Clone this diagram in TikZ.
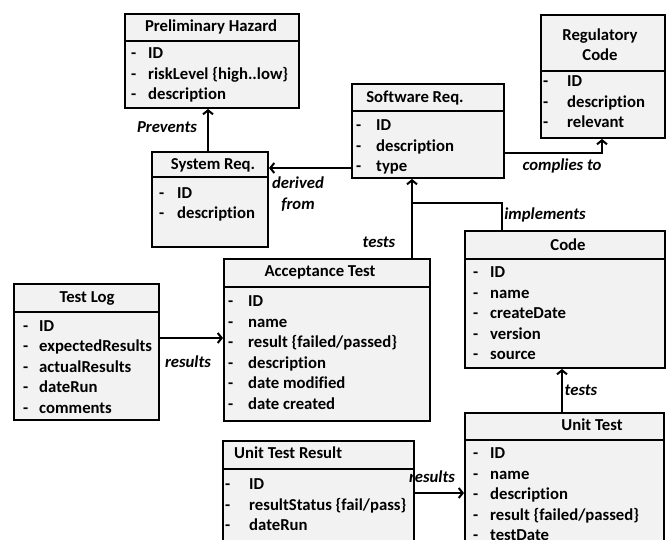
\documentclass[tikz,border=0pt]{standalone}
\usepackage{fontspec}
\setmainfont{Carlito}[Ligatures=NoCommon]
\usetikzlibrary{arrows.meta}
\newcommand\umlbox[6]{%
  \node[cls, minimum width={#4-#2}, minimum height={#5-#3}] (#1) at (#2,#3) {};
  \draw[divline] (#2,#6) -- (#4,#6);
}
\newcommand\umlitems[5]{%
  \foreach \ittxt [count=\ii] in {#5}{%
    \node[txt, anchor=base west] (#1d\ii) at (#2, {#4+20.5*(\ii-1)}) {-};
    \node[txt, anchor=base west] (#1t\ii) at (#3, {#4+20.5*(\ii-1)}) {\ittxt};
  }%
}
\begin{document}
\begin{tikzpicture}[x=1pt,y=-1pt,
  cls/.style={draw=black, line width=2pt, fill=gray!10, inner sep=0pt, outer sep=1pt, anchor=north west},
  divline/.style={line width=2pt},
  txt/.style={font=\fontsize{16.7}{20.5}\selectfont\bfseries, inner sep=0pt},
  lbl/.style={font=\fontsize{16.7}{20.5}\selectfont\bfseries\itshape, inner sep=0pt, align=center},
  conn/.style={line width=2pt},
  arr/.style={conn, -{Straight Barb[length=4pt,width=10pt,line width=2pt]}},
]
\useasboundingbox (0,0) rectangle (666,540);
\clip (0,0) rectangle (666,540);
\fill[white] (0,0) rectangle (666,540);

% Preliminary Hazard
\umlbox{ph}{124}{13}{298}{107}{41}
\node[txt, anchor=base] (pht) at (211,32) {Preliminary Hazard};
\umlitems{ph}{131}{148}{59}{ID, {riskLevel \{high..low\}}, description}

% Regulatory Code
\umlbox{rc}{540}{14}{664}{137}{71}
\node[txt, anchor=base] (rct1) at (600,40.5) {Regulatory};
\node[txt, anchor=base] (rct2) at (600,60.5) {Code};
\umlitems{rc}{543}{567}{86.7}{ID, description, relevant}

% Software Req.
\umlbox{sr}{351}{83}{503}{177}{111}
\node[txt, anchor=base] (srt) at (415,102.5) {Software Req.};
\umlitems{sr}{356}{376}{130.7}{ID, description, type}

% System Req.
\umlbox{sys}{151}{151}{267}{246}{177}
\node[txt, anchor=base] (syst) at (213,169.3) {System Req.};
\umlitems{sys}{159}{177}{198.3}{ID, description}

% Test Log
\umlbox{tl}{13}{283}{158}{419}{312}
\node[txt, anchor=base] (tlt) at (87,302.3) {Test Log};
\umlitems{tl}{23}{39}{331}{ID, expectedResults, actualResults, dateRun, comments}

% Acceptance Test
\umlbox{at}{223}{258}{429}{420}{287}
\node[txt, anchor=base] (att) at (320,276.7) {Acceptance Test};
\umlitems{at}{228}{248}{306.7}{ID, name, {result \{failed/passed\}}, description, date modified, date created}

% Code
\umlbox{code}{464}{230}{664}{367}{259}
\node[txt, anchor=base] (codet) at (568,250) {Code};
\umlitems{code}{473}{490}{277.5}{ID, name, createDate, version, source}

% Unit Test
\umlbox{ut}{464}{412}{663}{600}{440}
\node[txt, anchor=base] (utt) at (592,430) {Unit Test};
\umlitems{ut}{473}{490}{458.5}{ID, name, description, {result \{failed/passed\}}, testDate}

% Unit Test Result
\umlbox{utr}{222}{440}{413}{600}{469}
\node[txt, anchor=base west] (utrt) at (234,458.3) {Unit Test Result};
\umlitems{utr}{225}{249}{489.5}{ID, {resultStatus \{fail/pass\}}, dateRun}

% connectors
\draw[arr] (sys.north -| 208,0) -- (ph.south -| 208,0);
\node[lbl] (l1) at (167,127) {Prevents};

\draw[arr] (sr.west |- 0,168) -- (sys.east |- 0,168);
\node[lbl] (l2) at (298,194) {derived\\from};

\draw[arr] (sr.east |- 0,153) -| (rc.south -| 602,0);
\node[lbl] (l3) at (562,166) {complies to};

\draw[arr] (at.north -| 412,0) -- (sr.south -| 412,0);
\node[lbl] (l4) at (379,242) {tests};

\coordinate (jn) at (412,203);
\draw[conn] (code.north -| 502,0) |- (jn);
\node[lbl] (l5) at (545,215) {implements};

\draw[arr] (tl.east |- 0,338) -- (at.west |- 0,338);
\node[lbl] (l6) at (188,362) {results};

\draw[arr] (ut.north -| 562,0) -- (code.south -| 562,0);
\node[lbl] (l7) at (581,390) {tests};

\draw[arr] (utr.east |- 0,493) -- (ut.west |- 0,493);
\node[lbl] (l8) at (432,477) {results};
\end{tikzpicture}
\end{document}
